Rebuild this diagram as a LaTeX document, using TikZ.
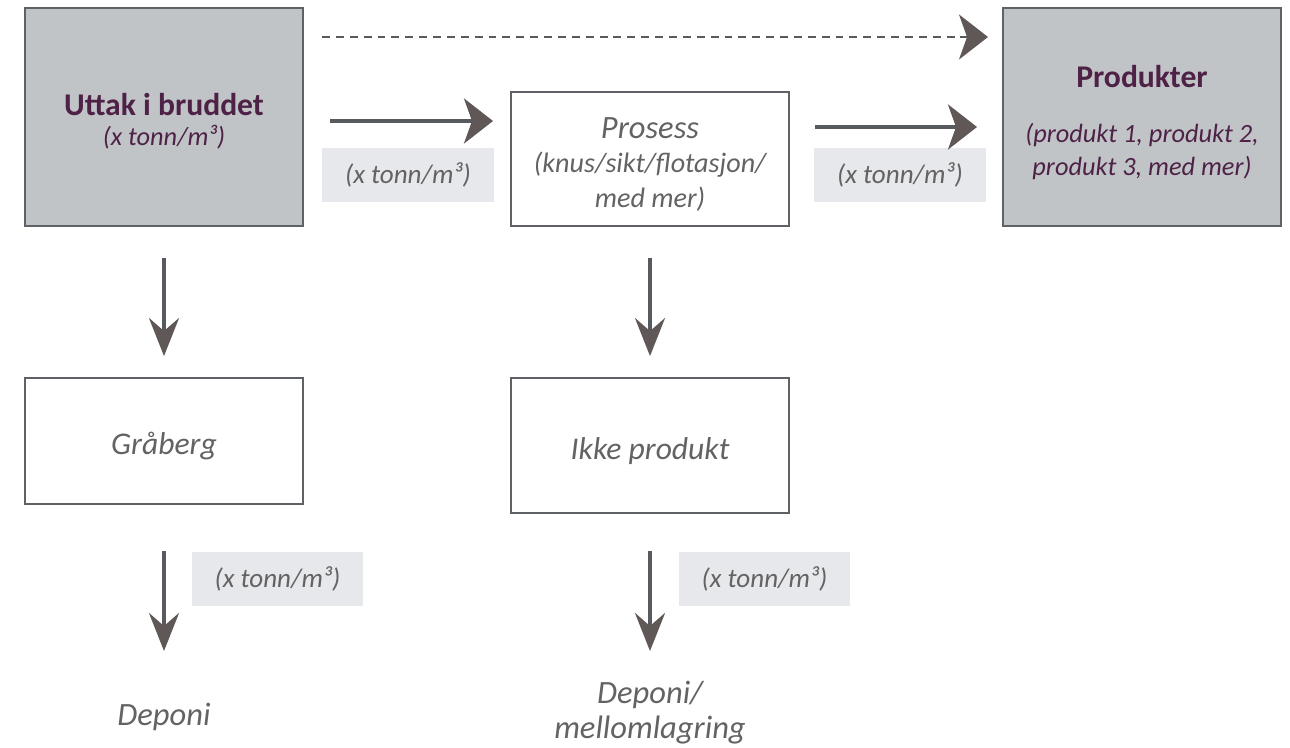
\documentclass[tikz,border=0pt]{standalone}
\usepackage{fontspec}
\setmainfont{Carlito}
\usetikzlibrary{arrows.meta}
\definecolor{boxgray}{HTML}{C1C4C7}
\definecolor{labgray}{HTML}{E6E8EC}
\definecolor{edgegray}{HTML}{5E6266}
\definecolor{shaftgray}{HTML}{575A5E}
\definecolor{headgray}{HTML}{605856}
\definecolor{txtgray}{HTML}{646262}
\definecolor{plum}{HTML}{4E2147}

\begin{document}
\begin{tikzpicture}[x=0.02cm,y=-0.02cm,
  box/.style={draw=edgegray,line width=1.1pt,minimum width=5.56cm,inner sep=0pt,align=center},
  lab/.style={fill=labgray,minimum width=3.44cm,minimum height=1.08cm,inner sep=0pt,
    text=txtgray,font=\fontsize{15.4}{18}\selectfont\itshape},
  big/.style={text=txtgray,font=\fontsize{18}{20}\selectfont\itshape,align=center},
  harrow/.style={shaftgray,line width=2.3pt,
    -{Stealth[length=0.58cm,width=0.9cm,inset=0.16cm,color=headgray]}},
  varrow/.style={shaftgray,line width=2.3pt,
    -{Stealth[length=0.76cm,width=0.6cm,inset=0.26cm,color=headgray]}}]
\useasboundingbox (0,0) rectangle (1290,747);
% Upper row
\node[box,fill=boxgray,minimum height=4.36cm] (uttak) at (164,117)
  {{\color{plum}\fontsize{18}{22}\selectfont\bfseries\rule{0pt}{17pt}Uttak i bruddet}\\[5pt]
   {\color{plum}\fontsize{15}{18}\selectfont\itshape (x tonn/m³)}};
\node[box,fill=white,minimum height=2.68cm,big] (prosess) at (650,159)
  {\fontsize{18.5}{20}\selectfont\rule{0pt}{18pt}Prosess\\[-1pt]\fontsize{16}{19.5}\selectfont (knus/sikt/flotasjon/\\\fontsize{16}{19.5}\selectfont med mer)};
\node[box,fill=boxgray,minimum height=4.36cm] (produkter) at (1142,117)
  {{\color{plum}\fontsize{18}{22}\selectfont\bfseries\rule{0pt}{19pt}Produkter}\\[19pt]
   {\color{plum}\fontsize{15}{18}\selectfont\itshape (produkt 1, produkt 2,}\\[4.5pt]
   {\color{plum}\fontsize{15}{18}\selectfont\itshape produkt 3, med mer)}};
\node[lab] (lab1) at (408,175) {(x tonn/m³)};
\node[lab] (lab2) at (900,175) {(x tonn/m³)};
% Lower rows
\node[box,fill=white,minimum height=2.52cm,big] (graberg) at (164,441) {\rule{0pt}{18.6pt}Gråberg};
\node[box,fill=white,minimum height=2.7cm,big] (ikke) at (650,445.5) {\rule{0pt}{18.5pt}Ikke produkt};
\node[lab] (lab3) at (277.5,578.5) {(x tonn/m³)};
\node[lab] (lab4) at (764.5,578.5) {(x tonn/m³)};
\node[big,font=\fontsize{18.5}{20}\selectfont\itshape] (deponi) at (164,717) {Deponi};
\node[big,font=\fontsize{18.5}{20}\selectfont\itshape] (mellom) at (650,713) {Deponi/\\mellomlagring};
% Arrows
\coordinate (dashs) at (322,37);
\coordinate (dashe) at (988,37);
\coordinate (a1s) at (330,121);
\coordinate (a1e) at (493,121);
\coordinate (a2s) at (815,127);
\coordinate (a2e) at (977,127);
\coordinate (gend) at (164,651);
\coordinate (iend) at (650,651);
\draw[harrow,line width=1pt,dash pattern=on 4.5pt off 3.4pt] (dashs) -- (dashe);
\draw[harrow] (a1s) -- (a1e);
\draw[harrow] (a2s) -- (a2e);
\draw[varrow,shorten <=0.62cm,shorten >=0.42cm] (uttak) -- (graberg);
\draw[varrow,shorten <=0.62cm,shorten >=0.42cm] (prosess) -- (ikke);
\draw[varrow,shorten <=0.92cm] (graberg.south) -- (gend);
\draw[varrow,shorten <=0.74cm] (ikke.south) -- (iend);
\end{tikzpicture}
\end{document}
